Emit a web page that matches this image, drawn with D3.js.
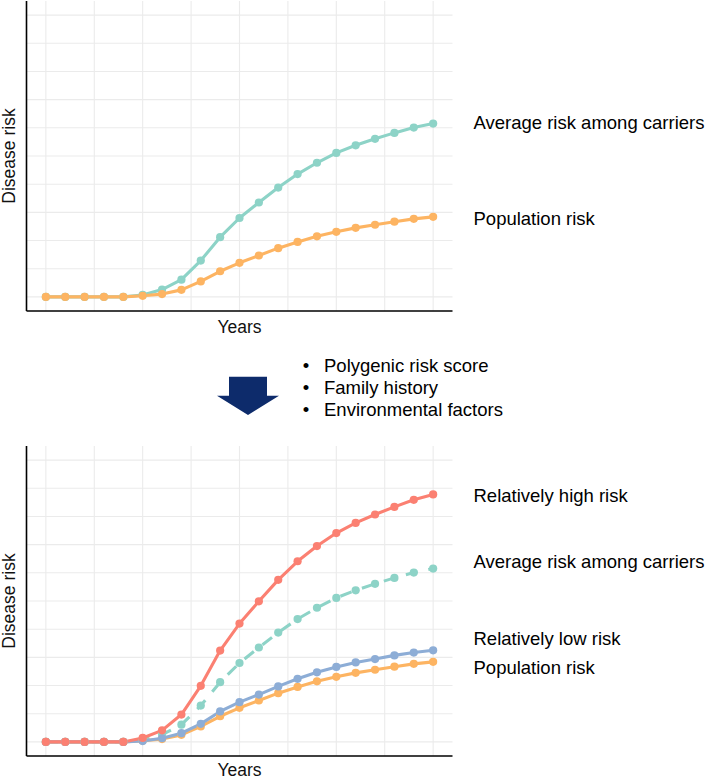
<!DOCTYPE html>
<html>
<head>
<meta charset="utf-8">
<script src="https://cdn.jsdelivr.net/npm/d3@7"></script>
<style>
  html, body { margin: 0; padding: 0; background: #fff; }
  svg { display: block; font-family: "Liberation Sans", Arial, Helvetica, sans-serif; }
</style>
</head>
<body>
<svg id="chart" width="709" height="780"></svg>
<script>
// ---------------- DATA ----------------
const years = [0,1,2,3,4,5,6,7,8,9,10,11,12,13,14,15,16,17,18,19,20];
const carriersRisk   = [0,0,0,0,0,0.007,0.026,0.061,0.129,0.212,0.280,0.335,0.388,0.436,0.476,0.511,0.538,0.561,0.582,0.601,0.615];
const populationRisk = [0,0,0,0,0,0.004,0.010,0.025,0.055,0.091,0.121,0.147,0.173,0.195,0.215,0.231,0.245,0.256,0.267,0.277,0.284];
const highRisk       = [0,0,0,0,0,0.014,0.041,0.097,0.199,0.324,0.420,0.499,0.575,0.641,0.695,0.741,0.777,0.807,0.834,0.859,0.878];
const lowRisk        = [0,0,0,0,0,0.003,0.013,0.031,0.064,0.108,0.141,0.168,0.197,0.224,0.247,0.266,0.282,0.294,0.307,0.317,0.325];
const yGridValues = [0,0.1,0.2,0.3,0.4,0.5,0.6,0.7,0.8,0.9,1.0];
const xGridValues = [0,2.5,5,7.5,10,12.5,15,17.5,20];
const factors = ["Polygenic risk score", "Family history", "Environmental factors"];

// label anchors (in risk units)
const topLabels = [
  {text: "Average risk among carriers", value: 0.621},
  {text: "Population risk", value: 0.277}
];
const bottomLabels = [
  {text: "Relatively high risk", value: 0.876},
  {text: "Average risk among carriers", value: 0.641},
  {text: "Relatively low risk", value: 0.369},
  {text: "Population risk", value: 0.265}
];

// ---------------- STYLE ----------------
const COLORS = { carriers: "#8DD3C7", population: "#FDB462", high: "#FB8072", low: "#8DADD6" };
const svg = d3.select("#chart");

function panel(opts) {
  const { left, right, top, bottom, series, labels, yearsY } = opts;
  const pad = (right - left) * 0.05 / 1.1;
  const x = d3.scaleLinear().domain([0, 20]).range([left + pad, right - pad]);
  const ypad = (bottom - top) * 0.05 / 1.1;
  const y = d3.scaleLinear().domain([0, 1]).range([bottom - ypad, top + ypad]);

  const g = svg.append("g");
  // grid
  g.selectAll(".hg").data(yGridValues).join("line")
    .attr("x1", left).attr("x2", right)
    .attr("y1", d => y(d)).attr("y2", d => y(d))
    .attr("stroke", "#ebebeb").attr("stroke-width", 1.1);
  g.selectAll(".vg").data(xGridValues).join("line")
    .attr("x1", d => x(d)).attr("x2", d => x(d))
    .attr("y1", top).attr("y2", bottom)
    .attr("stroke", "#ebebeb").attr("stroke-width", 1.1);

  const line = d3.line().x(d => x(d[0])).y(d => y(d[1]));
  // lines
  series.forEach(s => {
    g.append("path")
      .datum(years.map((yr, i) => [yr, s.values[i]]))
      .attr("d", line)
      .attr("fill", "none")
      .attr("stroke", s.color)
      .attr("stroke-width", 3.1)
      .attr("stroke-linejoin", "round")
      .attr("stroke-dasharray", s.dashed ? "12,11" : null);
  });
  // points
  series.forEach(s => {
    g.selectAll(null).data(years.map((yr, i) => [yr, s.values[i]])).join("circle")
      .attr("cx", d => x(d[0])).attr("cy", d => y(d[1]))
      .attr("r", 4.1).attr("fill", s.color);
  });

  // axes lines (left & bottom)
  const xAxis = d3.axisBottom(x).tickValues([]).tickSize(0).tickSizeOuter(0);
  const yAxis = d3.axisLeft(y).tickValues([]).tickSize(0).tickSizeOuter(0);
  const gx = g.append("g").attr("transform", `translate(0,${bottom})`).call(xAxis);
  gx.select(".domain").attr("d", `M${left},0H${right}`).attr("stroke", "#000").attr("stroke-width", 1.6);
  const gy = g.append("g").attr("transform", `translate(${left},0)`).call(yAxis);
  gy.select(".domain").attr("d", `M0,${top}V${bottom}`).attr("stroke", "#000").attr("stroke-width", 1.6);

  // axis titles
  g.append("text").attr("x", x(10)).attr("y", yearsY)
    .attr("text-anchor", "middle").attr("font-size", 17.5).attr("fill", "#111").text("Years");
  g.append("text")
    .attr("transform", `translate(${left - 11.5},${(top + bottom) / 2}) rotate(-90)`)
    .attr("text-anchor", "middle").attr("font-size", 17.5).attr("fill", "#111").text("Disease risk");

  // right labels
  g.selectAll(null).data(labels).join("text")
    .attr("x", 473.5).attr("y", d => y(d.value) + 6.6)
    .attr("font-size", 18.5).attr("fill", "#000").text(d => d.text);
}

panel({
  left: 26.5, right: 452.5, top: 1, bottom: 311, yearsY: 333,
  series: [
    { values: carriersRisk, color: COLORS.carriers },
    { values: populationRisk, color: COLORS.population }
  ],
  labels: topLabels
});

panel({
  left: 26.5, right: 452.5, top: 446, bottom: 756, yearsY: 776,
  series: [
    { values: carriersRisk, color: COLORS.carriers, dashed: true },
    { values: populationRisk, color: COLORS.population },
    { values: lowRisk, color: COLORS.low },
    { values: highRisk, color: COLORS.high }
  ],
  labels: bottomLabels
});

// arrow
const ax = 248, ayTop = 376.7, headY = 395.7, tipY = 415;
svg.append("path")
  .attr("d", `M${ax-19},${ayTop}H${ax+19}V${headY}H${ax+31}L${ax},${tipY}L${ax-31},${headY}H${ax-19}Z`)
  .attr("fill", "#0d2b6b");

// bullet list
const bl = svg.append("g");
bl.selectAll(".b").data(factors).join("text")
  .attr("x", 306).attr("y", (d, i) => 371.7 + i * 22.2)
  .attr("text-anchor", "middle").attr("font-size", 18.5).text("•");
bl.selectAll(".t").data(factors).join("text")
  .attr("x", 324).attr("y", (d, i) => 371.7 + i * 22.2)
  .attr("font-size", 18.5).attr("fill", "#000").text(d => d);
</script>
</body>
</html>
